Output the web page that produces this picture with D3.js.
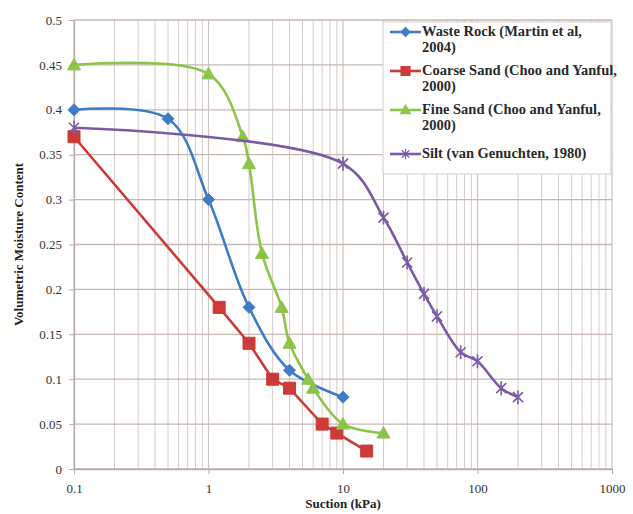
<!DOCTYPE html>
<html><head><meta charset="utf-8">
<script src="https://cdn.jsdelivr.net/npm/d3@7"></script>
<style>body{margin:0;background:#fff}svg{display:block}svg text{font-family:"Liberation Serif","Times New Roman",serif}</style>
</head><body>
<script>
const xTicks = [0.1, 1, 10, 100, 1000];
const xTickLabels = ["0.1", "1", "10", "100", "1000"];
const yTicks = [0, 0.05, 0.1, 0.15, 0.2, 0.25, 0.3, 0.35, 0.4, 0.45, 0.5];
const yTickLabels = ["0", "0.05", "0.1", "0.15", "0.2", "0.25", "0.3", "0.35", "0.4", "0.45", "0.5"];

const seriesNames = ["Waste Rock (Martin et al, 2004)", "Coarse Sand (Choo and Yanful, 2000)", "Fine Sand (Choo and Yanful, 2000)", "Silt (van Genuchten, 1980)"];
const legendLines = [["Waste Rock (Martin et al,", "2004)"], ["Coarse Sand (Choo and Yanful,", "2000)"], ["Fine Sand (Choo and Yanful,", "2000)"], ["Silt (van Genuchten, 1980)"]];
const colors = ["#3d7cc9", "#cc3b37", "#8cc44a", "#7d5aa8"];
const markers = ["diamond", "square", "triangle", "star"];
const smooth = [true, false, true, true];

const wasteX = [0.1, 0.5, 1, 2, 4, 10];
const wasteY = [0.40, 0.39, 0.30, 0.18, 0.11, 0.08];
const coarseX = [0.1, 1.2, 2, 3, 4, 7, 9, 15];
const coarseY = [0.37, 0.18, 0.14, 0.10, 0.09, 0.05, 0.04, 0.02];
const fineX = [0.1, 1, 1.8, 2, 2.5, 3.5, 4, 5.5, 6, 10, 20];
const fineY = [0.45, 0.44, 0.37, 0.34, 0.24, 0.18, 0.14, 0.10, 0.09, 0.05, 0.04];
const siltX = [0.1, 10, 20, 30, 40, 50, 75, 100, 150, 200];
const siltY = [0.38, 0.34, 0.28, 0.23, 0.195, 0.17, 0.13, 0.12, 0.09, 0.08];

const allX = [wasteX, coarseX, fineX, siltX];
const allY = [wasteY, coarseY, fineY, siltY];

const W = 633, H = 514;
const m = {left: 74, right: 21, top: 20, bottom: 45};
const FONT = "'Liberation Serif', 'Times New Roman', serif";
const svg = d3.select("body").append("svg").attr("width", W).attr("height", H);

const x = d3.scaleLog().domain([0.1, 1000]).range([m.left, W - m.right]);
const y = d3.scaleLinear().domain([0, 0.5]).range([H - m.bottom, m.top]);

const g = svg.append("g");
const minor = [];
for (let d = 0.1; d < 1000; d *= 10) for (let k = 2; k <= 9; k++) minor.push(d * k);
g.selectAll(".vminor").data(minor).enter().append("line")
  .attr("x1", d => x(d)).attr("x2", d => x(d)).attr("y1", y(0)).attr("y2", y(0.5))
  .attr("stroke", "#d6ccc9").attr("stroke-width", 1);
g.selectAll(".vmajor").data(xTicks).enter().append("line")
  .attr("x1", d => x(d)).attr("x2", d => x(d)).attr("y1", y(0)).attr("y2", y(0.5))
  .attr("stroke", "#cfc3bf").attr("stroke-width", 1.2);
g.selectAll(".hgrid").data(yTicks).enter().append("line")
  .attr("x1", x(0.1)).attr("x2", x(1000)).attr("y1", d => y(d)).attr("y2", d => y(d))
  .attr("stroke", "#c6b8b3").attr("stroke-width", 1.3);

const axisColor = "#b9aaa5";
const xAxis = svg.append("g").attr("transform", `translate(0,${y(0)})`)
  .call(d3.axisBottom(x).tickValues(xTicks).tickFormat((d, i) => xTickLabels[i]).tickSize(5).tickSizeOuter(0));
const yAxis = svg.append("g").attr("transform", `translate(${x(0.1)},0)`)
  .call(d3.axisLeft(y).tickValues(yTicks).tickFormat((d, i) => yTickLabels[i]).tickSize(5).tickSizeOuter(0));
[xAxis, yAxis].forEach(a => {
  a.attr("font-family", FONT);
  a.select(".domain").attr("stroke", axisColor).attr("stroke-width", 1.3);
  a.selectAll(".tick line").attr("stroke", axisColor);
  a.selectAll("text").style("font-family", FONT).attr("font-size", 13).attr("fill", "#333");
});
xAxis.selectAll("text").attr("dy", "1.2em");
yAxis.selectAll("text").attr("dx", "-0.3em");

svg.append("text").attr("x", x(10)).attr("y", 508).attr("text-anchor", "middle")
  .style("font-family", FONT).attr("font-size", 13).attr("font-weight", "bold").attr("fill", "#222")
  .text("Suction (kPa)");
svg.append("text").attr("transform", `translate(23,${(y(0) + y(0.5)) / 2}) rotate(-90)`).attr("text-anchor", "middle")
  .style("font-family", FONT).attr("font-size", 13).attr("font-weight", "bold").attr("fill", "#222")
  .text("Volumetric Moisture Content");

function markerPath(type) {
  if (type === "diamond") return "M0,-6L6,0L0,6L-6,0Z";
  if (type === "square") return "M-6,-6H6V6H-6Z";
  if (type === "triangle") return "M0,-6.5L6.5,5L-6.5,5Z";
  return "M-5,-5L5,5M-5,5L5,-5M0,-7V7";
}

allX.forEach((xs, i) => {
  const pts = xs.map((v, j) => [x(v), y(allY[i][j])]);
  const line = d3.line().curve(smooth[i] ? d3.curveCatmullRom.alpha(0.5) : d3.curveLinear);
  svg.append("path").attr("d", line(pts)).attr("fill", "none")
    .attr("stroke", colors[i]).attr("stroke-width", 2.6);
  svg.selectAll(null).data(pts).enter().append("path")
    .attr("transform", d => `translate(${d[0]},${d[1]})`)
    .attr("d", markerPath(markers[i]))
    .attr("fill", markers[i] === "star" ? "none" : colors[i])
    .attr("stroke", colors[i]).attr("stroke-width", markers[i] === "star" ? 1.6 : 1);
});

const lg = svg.append("g");
lg.append("rect").attr("x", 383).attr("y", 22).attr("width", 228).attr("height", 152)
  .attr("fill", "#fff").attr("stroke", "#d6ccc9").attr("stroke-width", 1);
const rowY = [36, 75, 114, 158];
legendLines.forEach((lines, i) => {
  const yy = rowY[i];
  lg.append("line").attr("x1", 390).attr("x2", 421).attr("y1", yy - 4).attr("y2", yy - 4)
    .attr("stroke", colors[i]).attr("stroke-width", 2.6);
  lg.append("path").attr("transform", `translate(405.5,${yy - 4}) scale(0.75)`).attr("d", markerPath(markers[i]))
    .attr("fill", markers[i] === "star" ? "none" : colors[i]).attr("stroke", colors[i]).attr("stroke-width", 1.5);
  lines.forEach((t, k) => {
    lg.append("text").attr("x", 422).attr("y", yy + k * 16)
      .style("font-family", FONT).attr("font-size", 14.5).attr("font-weight", "bold").attr("fill", "#2a2a2a")
      .text(t);
  });
});
</script>
</body></html>
